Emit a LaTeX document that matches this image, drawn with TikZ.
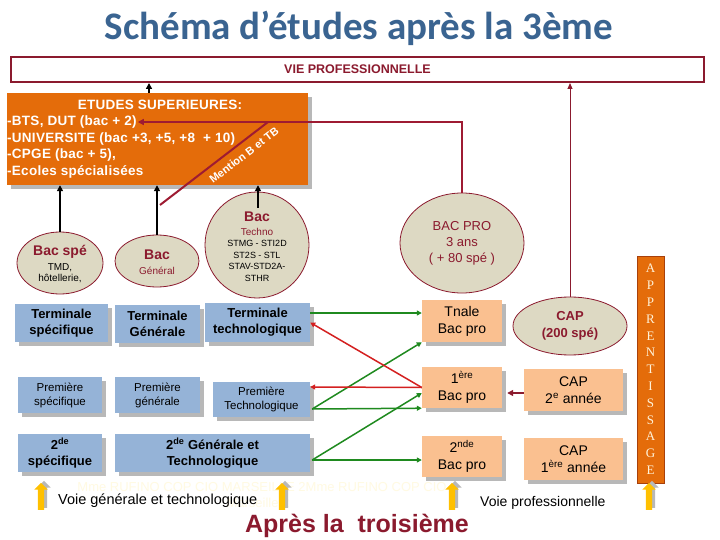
\documentclass[tikz,border=0pt]{standalone}
\usepackage{fontspec}
\setmainfont{Liberation Sans}
\newfontfamily\titlefont{Carlito}
\newfontfamily\serfont{Liberation Serif}
\usetikzlibrary{arrows.meta,shapes.geometric,shapes.arrows,shadows,calc}
\definecolor{titleblue}{HTML}{3A6491}
\definecolor{maroon}{HTML}{8B1A2E}
\definecolor{linered}{HTML}{9E1B32}
\definecolor{orangebox}{HTML}{E46C0A}
\definecolor{orangedark}{HTML}{A8400A}
\definecolor{bluebox}{HTML}{95B3D7}
\definecolor{peach}{HTML}{FAC090}
\definecolor{tanfill}{HTML}{DDD9C3}
\definecolor{grn}{HTML}{1F8A1F}
\definecolor{rd}{HTML}{D42020}
\definecolor{shadowgray}{HTML}{B8B8B8}
\definecolor{arrowyellow}{HTML}{FFC000}
\definecolor{wmark}{HTML}{FFFAE2}
\definecolor{apprtext}{HTML}{FFF2D8}
\tikzset{
  sh/.style={drop shadow={shadow xshift=4pt,shadow yshift=-4pt,fill=shadowgray,opacity=1}},
  bbox/.style={rectangle, fill=bluebox, sh, inner sep=1pt, align=center},
  pbox/.style={rectangle, fill=peach, sh, inner sep=1pt, align=center, font=\fontsize{14}{17}\selectfont},
  ell/.style={ellipse, draw=maroon, line width=0.8pt, fill=tanfill, inner sep=0pt, align=center},
  etxt/.style={text=white, font=\bfseries\fontsize{13.5}{15}\selectfont\addfontfeature{LetterSpace=2}, inner sep=1pt},
  ttl/.style={text=maroon, font=\bfseries\fontsize{14}{16}\selectfont, inner sep=0pt},
  sml/.style={font=\fontsize{10}{11.5}\selectfont, inner sep=0pt, align=center},
  barrow/.style={draw=black, line width=1.5pt, -{Triangle[length=6pt,width=6pt]}},
  garrow/.style={draw=grn, line width=1.5pt, -{Triangle[length=5pt,width=5pt]}},
  rarrow/.style={draw=rd, line width=1.5pt, -{Triangle[length=5pt,width=5pt]}},
  mline/.style={draw=linered, line width=1.5pt},
  yarr/.style={single arrow, shape border rotate=90, fill=arrowyellow, draw=none, minimum height=27pt, single arrow head extend=3.5pt, inner sep=3pt},
  yarrsh/.style={yarr, fill=shadowgray},
}
\begin{document}
\begin{tikzpicture}[x=1pt,y=-1pt]
\useasboundingbox (0,0) rectangle (720,540);
\fill[white] (0,0) rectangle (720,540);

% title
\node[font=\titlefont\bfseries\fontsize{39}{42}\selectfont, text=titleblue] (title) at (359,28) {Schéma d’études après la 3ème};

% vie professionnelle
\node[draw=maroon, line width=2pt, minimum width=693pt, minimum height=25pt, inner sep=0pt,
      font=\bfseries\fontsize{12.5}{14}\selectfont, text=maroon] (vie) at (357.5,69.5) {VIE PROFESSIONNELLE};

% etudes superieures
\node[fill=orangebox, sh, minimum width=301pt, minimum height=92pt, inner sep=0pt] (etudes) at (157.5,139) {};
\node[etxt] (eh) at (160,105) {ETUDES SUPERIEURES:};
\node[etxt, anchor=west] (e1) at (6,122) {-BTS, DUT (bac + 2)};
\node[etxt, anchor=west] (e2) at (6,139) {-UNIVERSITE (bac +3, +5, +8~ + 10)};
\node[etxt, anchor=west] (e3) at (6,155.5) {-CPGE (bac + 5),};
\node[etxt, anchor=west] (e4) at (6,171.5) {-Ecoles spécialisées};

% ellipses
\node[ell, minimum width=86pt, minimum height=62pt] (bacS) at (60,263) {};
\node[ttl] (bacSt) at (60,252) {Bac spé};
\node[sml] (bacSs) at (60,273) {TMD,\\hôtellerie,};
\node[ell, minimum width=84pt, minimum height=52pt] (bacG) at (157,261) {};
\node[ttl] (bacGt) at (157,255) {Bac};
\node[sml, text=maroon] (bacGs) at (157,271) {Général};
\node[ell, minimum width=104pt, minimum height=106pt] (bacT) at (257,245) {};
\node[ttl] (bacTt) at (257,217) {Bac};
\node[sml, text=maroon] (bacTs) at (257,232) {Techno};
\node[font=\fontsize{9}{11.5}\selectfont, inner sep=0pt, align=center] (bacTl) at (257,261) {STMG - STI2D\\ST2S - STL\\STAV-STD2A-\\STHR};
\node[ell, minimum width=124pt, minimum height=100pt, text=maroon, font=\fontsize{13}{16}\selectfont] (bacP) at (462,243)
  {BAC PRO\\3 ans\\( + 80 spé )};
\node[ell, minimum width=114pt, minimum height=58pt, text=maroon, font=\bfseries\fontsize{13}{17}\selectfont] (cap) at (570,326)
  {CAP\\(200 spé)};

% blue boxes
\node[bbox, minimum width=93pt, minimum height=38pt, font=\bfseries\fontsize{13}{16}\selectfont] (termS) at (61.5,323) {Terminale\\spécifique};
\node[bbox, minimum width=85pt, minimum height=38pt, font=\bfseries\fontsize{13}{16}\selectfont] (termG) at (157.5,324) {Terminale\\Générale};
\node[bbox, minimum width=105pt, minimum height=39pt, font=\bfseries\fontsize{13}{16}\selectfont] (termT) at (257.5,322.5) {Terminale\\technologique};
\node[bbox, minimum width=84pt, minimum height=36pt, font=\fontsize{11.5}{14}\selectfont] (premS) at (60,395) {Première\\spécifique};
\node[bbox, minimum width=85pt, minimum height=36pt, font=\fontsize{11.5}{14}\selectfont] (premG) at (157.5,395) {Première\\générale};
\node[bbox, minimum width=97pt, minimum height=35pt, font=\fontsize{11.5}{14}\selectfont] (premT) at (261.5,399.5) {Première\\Technologique};
\node[bbox, minimum width=84pt, minimum height=38pt, font=\bfseries\fontsize{13}{16}\selectfont] (secS) at (60,453) {2\textsuperscript{de}\\spécifique};
\node[bbox, minimum width=195pt, minimum height=38pt, font=\bfseries\fontsize{13}{16}\selectfont] (secGT) at (212.5,453) {2\textsuperscript{de} Générale et\\Technologique};

% peach boxes
\node[pbox, minimum width=80pt, minimum height=42pt] (tnale) at (462,321) {Tnale\\Bac pro};
\node[pbox, minimum width=80pt, minimum height=41pt] (prem) at (462,387.5) {1\textsuperscript{ère}\\Bac pro};
\node[pbox, minimum width=80pt, minimum height=41pt] (sec) at (462,456.5) {2\textsuperscript{nde}\\Bac pro};
\node[pbox, minimum width=99pt, minimum height=42pt] (cap2) at (573.5,390) {CAP\\2\textsuperscript{e} année};
\node[pbox, minimum width=99pt, minimum height=42pt] (cap1) at (573.5,459) {CAP\\1\textsuperscript{ère} année};

% apprentissage
\node[fill=orangebox, draw=orangedark, line width=0.8pt, minimum width=27pt, minimum height=227pt, inner sep=0pt,
      text=apprtext, align=center, font=\serfont\fontsize{13}{16.8}\selectfont] (appr) at (650.5,369.5)
  {A\\P\\P\\R\\E\\N\\T\\I\\S\\S\\A\\G\\E};

% black arrows
\coordinate (ea) at (149,93);
\draw[barrow] (ea) -- (ea |- vie.south);
\draw[barrow] (bacS.north) -- (bacS.north |- etudes.south);
\draw[barrow] (bacG.north) -- (bacG.north |- etudes.south);
\coordinate (bacTin) at (258,208);
\draw[barrow] (bacTin) -- (bacTin |- etudes.south);

% bac pro path to BTS and mention line
\draw[mline, -{Triangle[length=6pt,width=6pt]}] (bacP.north) -- (bacP.north |- e1.east) -- (e1.east);
\coordinate (mj) at (268,122);
\coordinate (mend) at (160,205);
\draw[mline, line width=2pt] (mend) -- (mj);
\node[rotate=37.5, text=white, font=\bfseries\fontsize{11}{12}\selectfont, inner sep=0pt] (mention) at (244,155) {Mention B et TB};

% CAP to vie professionnelle
\draw[draw=maroon, line width=1pt, -{Triangle[length=6pt,width=5pt]}] (cap.north) -- (cap.north |- vie.south);

% green arrows
\draw[garrow] ($(termT.east)+(0,-9.5)$) -- ($(tnale.west)+(0,-8)$);
\coordinate (pt) at ($(premT.east)+(2,9.5)$);
\draw[garrow] (pt) -- (tnale.south west);
\draw[garrow] (pt) -- (prem.south west);
\coordinate (sg) at ($(secGT.east)+(2,7)$);
\draw[garrow] (sg) -- ($(prem.west)+(0,5.5)$);
\draw[garrow] (sg) -- ($(sec.west)+(0,3.5)$);

% red arrows
\draw[rarrow] (prem.west) -- (termT.east);
\draw[rarrow] (prem.west) -- ($(premT.east)+(0,-12.5)$);

% CAP 2e annee to 1ere bac pro
\draw[draw=maroon, line width=1.5pt, -{Triangle[length=6pt,width=6pt]}] ($(cap2.west)+(0,3)$) -- ($(prem.east)+(5,5.5)$);

% watermark
\node[text=wmark, font=\fontsize{13}{15}\selectfont] (wm1) at (262,487) {Mme RUFINO COP CIO MARSEILLE 2Mme RUFINO COP CIO};
\node[text=wmark, font=\fontsize{13}{15}\selectfont] (wm2) at (258,503) {Marseille 2};

% yellow arrows
\foreach \n/\xx in {1/41,2/282,3/452,4/649}{
  \node[yarrsh] (ya\n s) at (\xx+3,496) {};
  \node[yarr] (ya\n) at (\xx,498) {};
}

% bottom texts
\node[font=\fontsize{14.5}{16}\selectfont, anchor=west, inner sep=0pt] (voieg) at (58,501) {Voie générale et technologique};
\node[font=\fontsize{14}{16}\selectfont, anchor=west, inner sep=0pt] (voiep) at (480,503) {Voie professionnelle};
\node[font=\bfseries\fontsize{25}{28}\selectfont, text=maroon] (apres) at (357,526) {Après la~ troisième};
\end{tikzpicture}
\end{document}
